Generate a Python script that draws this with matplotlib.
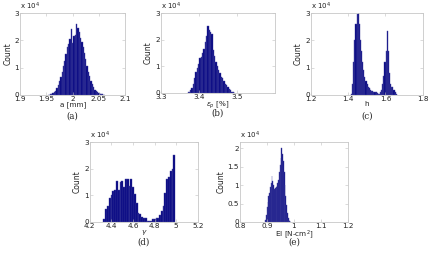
import numpy as np
import matplotlib
matplotlib.use("Agg")
import matplotlib.pyplot as plt

# histogram heights (x 10^4 counts), bins start at *_lo with width *_step
a_lo, a_step = 1.955, 0.0025
a_counts = [0.01, 0.02, 0.04, 0.07, 0.10, 0.15, 0.25, 0.35, 0.50, 0.65,
            0.85, 1.05, 1.25, 1.50, 1.75, 1.85, 2.05, 2.40, 1.90, 2.15,
            2.20, 2.60, 2.45, 2.30, 2.10, 1.95, 1.75, 1.55, 1.30, 1.05,
            0.85, 0.70, 0.50, 0.40, 0.30, 0.20, 0.15, 0.10, 0.07, 0.05,
            0.03, 0.02, 0.01]

b_lo, b_step = 3.372, 0.0035
b_counts = [0.02, 0.05, 0.10, 0.20, 0.35, 0.55, 0.80, 0.95, 1.10, 1.30,
            1.35, 1.50, 1.65, 1.90, 2.15, 2.52, 2.35, 2.30, 2.20, 1.60,
            1.40, 1.15, 1.00, 0.85, 0.75, 0.60, 0.55, 0.45, 0.35, 0.30,
            0.22, 0.15, 0.10, 0.05, 0.03, 0.01]

c_lo, c_step = 1.418, 0.006
c_counts = [0.05, 0.40, 1.20, 2.00, 2.60, 2.95, 3.00, 2.60, 2.00, 1.60,
            1.20, 0.90, 0.65, 0.50, 0.40, 0.30, 0.25, 0.20, 0.15, 0.15,
            0.12, 0.10, 0.10, 0.08, 0.05, 0.05, 0.10, 0.20, 0.40, 0.70,
            1.20, 1.60, 2.35, 1.60, 0.80, 0.40, 0.30, 0.30, 0.20, 0.10,
            0.05]

d_lo, d_step = 4.333, 0.01667
d_counts = [0.10, 0.50, 0.60, 0.90, 1.00, 1.15, 1.20, 1.55, 1.20, 1.50,
            1.55, 1.30, 1.60, 1.60, 1.35, 1.60, 1.30, 1.05, 0.70, 0.35,
            0.30, 0.20, 0.15, 0.15, 0.05, 0.05, 0.05, 0.10, 0.10, 0.15,
            0.15, 0.25, 0.40, 0.60, 1.10, 1.60, 1.70, 1.90, 2.00, 2.50]

e_lo, e_step = 0.895, 0.003
e_counts = [0.05, 0.20, 0.40, 0.55, 0.70, 0.80, 0.95, 1.05, 1.25, 1.10,
            1.00, 0.90, 0.92, 0.95, 0.98, 1.05, 1.15, 1.35, 1.55, 1.75,
            2.00, 1.85, 1.65, 1.35, 1.00, 0.70, 0.45, 0.25, 0.12, 0.05,
            0.03, 0.01]

panels = [
    ("a", a_lo, a_step, a_counts, (1.9, 2.1), [1.9, 1.95, 2.0, 2.05, 2.1],
     "a [mm]", (0, 3), [0, 1, 2, 3]),
    ("b", b_lo, b_step, b_counts, (3.3, 3.6), [3.3, 3.4, 3.5],
     r"$\epsilon_p$ [%]", (0, 3), [0, 1, 2, 3]),
    ("c", c_lo, c_step, c_counts, (1.2, 1.8), [1.2, 1.4, 1.6, 1.8],
     "h", (0, 3), [0, 1, 2, 3]),
    ("d", d_lo, d_step, d_counts, (4.2, 5.2), [4.2, 4.4, 4.6, 4.8, 5.0, 5.2],
     r"$\gamma$", (0, 3), [0, 1, 2, 3]),
    ("e", e_lo, e_step, e_counts, (0.8, 1.2), [0.8, 0.9, 1.0, 1.1, 1.2],
     r"EI [N-cm$^2$]", (0, 2.17), [0, 0.5, 1, 1.5, 2]),
]

# axes boxes in figure fraction
boxes = {
    "a": [0.047, 0.629, 0.244, 0.320],
    "b": [0.374, 0.637, 0.265, 0.312],
    "c": [0.723, 0.629, 0.260, 0.320],
    "d": [0.209, 0.133, 0.251, 0.312],
    "e": [0.558, 0.133, 0.251, 0.312],
}

fig = plt.figure(figsize=(4.30, 2.56), dpi=100)

for key, lo, step, counts, xlim, xticks, xlabel, ylim, yticks in panels:
    ax = fig.add_axes(boxes[key])
    centers = lo + step * np.arange(len(counts))
    ax.bar(centers, counts, width=step, color="#000080",
           edgecolor="#4a4aa0", linewidth=0.3)
    ax.set_xlim(*xlim)
    ax.set_ylim(*ylim)
    ax.set_xticks(xticks)
    ax.set_yticks(yticks)
    ax.set_xticklabels(["%g" % t for t in xticks])
    ax.set_yticklabels(["%g" % t for t in yticks])
    ax.tick_params(direction="in", length=2, width=0.4, colors="#c0c0c0",
                   labelcolor="#222222", labelsize=5.2, pad=0.8,
                   top=True, right=True)
    for s in ax.spines.values():
        s.set_color("#c8c8c8")
        s.set_linewidth(0.6)
    ax.set_xlabel(xlabel, fontsize=5.2, labelpad=-0.5, color="#222222")
    ax.set_ylabel("Count", fontsize=5.5, labelpad=1.5, color="#222222")
    ax.text(0.0, 1.01, r"x 10$^4$", transform=ax.transAxes, fontsize=5,
            ha="left", va="bottom", color="#222222")
    ax.text(0.5, -0.255, "(%s)" % key, transform=ax.transAxes, fontsize=6.2,
            ha="center", va="center", family="DejaVu Serif", color="#222222")

fig.savefig("out.png", dpi=100)
